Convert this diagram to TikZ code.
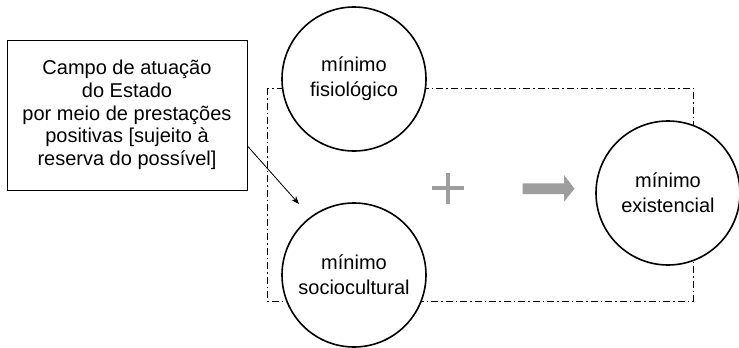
\documentclass[tikz,border=0pt]{standalone}
\usepackage{fontspec}
\setmainfont{Liberation Sans}
\usepackage{tikz}
\usetikzlibrary{arrows.meta}

\tikzset{
    kreis/.style={circle,draw=black,line width=1.6pt,fill=white,minimum size=144pt,inner sep=0pt,align=center,font=\fontsize{20pt}{25pt}\selectfont},
    kasten/.style={rectangle,draw=black,line width=0.9pt,minimum width=240pt,minimum height=150pt,inner sep=0pt,align=center,font=\fontsize{20pt}{22.8pt}\selectfont},
    grau/.style={fill=black!38,draw=none}
}

\begin{document}
\begin{tikzpicture}[x=1pt,y=-1pt]
            \useasboundingbox (0,0) rectangle (739,348);
            \draw[black,line width=0.9pt,dash pattern=on 7pt off 3pt on 1.5pt off 3pt](267,88) rectangle (693,301);

            \node[kasten] (campo) at (127,115){Campo de atuação\\do Estado\\por meio de prestações\\positivas [sujeito à\\reserva do possível]};
            \node[kreis] (fisio) at (354,79){mínimo\\fisiológico};
            \node[kreis] (socio) at (354,275){mínimo\\sociocultural};
            \node[kreis] (exist) at (668,193){mínimo\\existencial};

            \coordinate (ziel) at (299,204);
            \draw[black,line width=0.8pt,-{Stealth[length=8pt,width=6pt]}]([yshift=-31pt]campo.east) -- (ziel);

            \fill[grau](431.5,186.3) rectangle (463.5,190.3);
            \fill[grau](445.5,172.5) rectangle (449.5,204);
            \fill[grau](522.7,183.3) -- (564,183.3) -- (564,175) -- (574.5,188.6) -- (564,201.8) -- (564,194) -- (522.7,194) -- cycle;
\end{tikzpicture}
\end{document}
